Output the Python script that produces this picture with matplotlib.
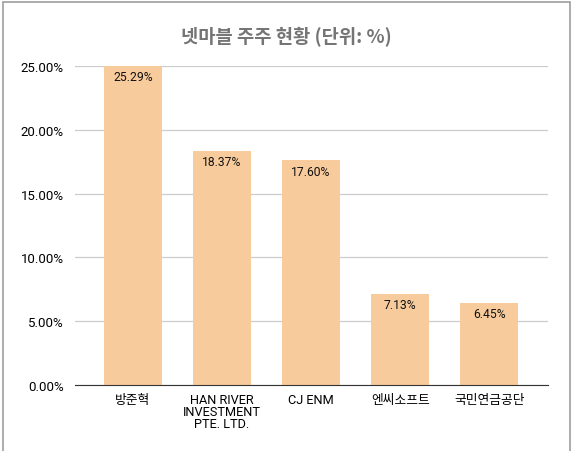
import matplotlib
matplotlib.use("Agg")
import matplotlib.pyplot as plt
from matplotlib.patches import Rectangle
from matplotlib.ticker import FuncFormatter

# shareholders and their stake (%)
holders = ["방준혁", "HAN RIVER\nINVESTMENT\nPTE. LTD.", "CJ ENM", "엔씨소프트", "국민연금공단"]
stakes = [25.29, 18.37, 17.60, 7.13, 6.45]
y_ticks = [0, 5, 10, 15, 20, 25]

plt.rcParams["font.family"] = ["Roboto", "Noto Sans CJK KR", "DejaVu Sans"]

fig = plt.figure(figsize=(5.72, 4.52), dpi=100)
fig.patch.set_facecolor("white")
# chart frame like the spreadsheet chart box
fig.patches.append(Rectangle((3 / 572, -0.01), 567 / 572, 1 - 3 / 452 + 0.01,
                             transform=fig.transFigure, fill=False,
                             edgecolor="#9e9e9e", linewidth=1.2))

ax = fig.add_axes([75 / 572, 1 - 386 / 452, 473 / 572, 319 / 452])
x = list(range(len(holders)))
ax.bar(x, stakes, width=0.65, color="#f8cb9c", zorder=2)

ymax = y_ticks[-1]
for xi, v in zip(x, stakes):
    ax.annotate(f"{v:.2f}%", (xi, min(v, ymax)), xytext=(0, -3),
                textcoords="offset points", ha="center", va="top",
                fontsize=8.7, color="#111111", zorder=3)

ax.set_ylim(0, ymax)
ax.set_xlim(-0.65, 4.66)
ax.set_yticks(y_ticks)
ax.yaxis.set_major_formatter(FuncFormatter(lambda v, p: f"{v:.2f}%"))
ax.set_xticks(x)
ax.set_xticklabels(holders, fontsize=9.2, linespacing=0.9)
ax.tick_params(axis="y", labelsize=9.5, length=0, pad=8)
ax.tick_params(axis="x", length=0, pad=6)
ax.grid(axis="y", color="#cccccc", linewidth=0.9, zorder=0)
for s in ["top", "right", "left"]:
    ax.spines[s].set_visible(False)
ax.spines["bottom"].set_color("#333333")
ax.spines["bottom"].set_zorder(4)

fig.text(0.5, 1 - 37 / 452, "넷마블 주주 현황 (단위: %)", ha="center", va="center",
         fontsize=13.5, fontweight="bold", color="#757575",
         family=["Noto Sans CJK KR", "DejaVu Sans"])

fig.savefig("out.png", dpi=100)
